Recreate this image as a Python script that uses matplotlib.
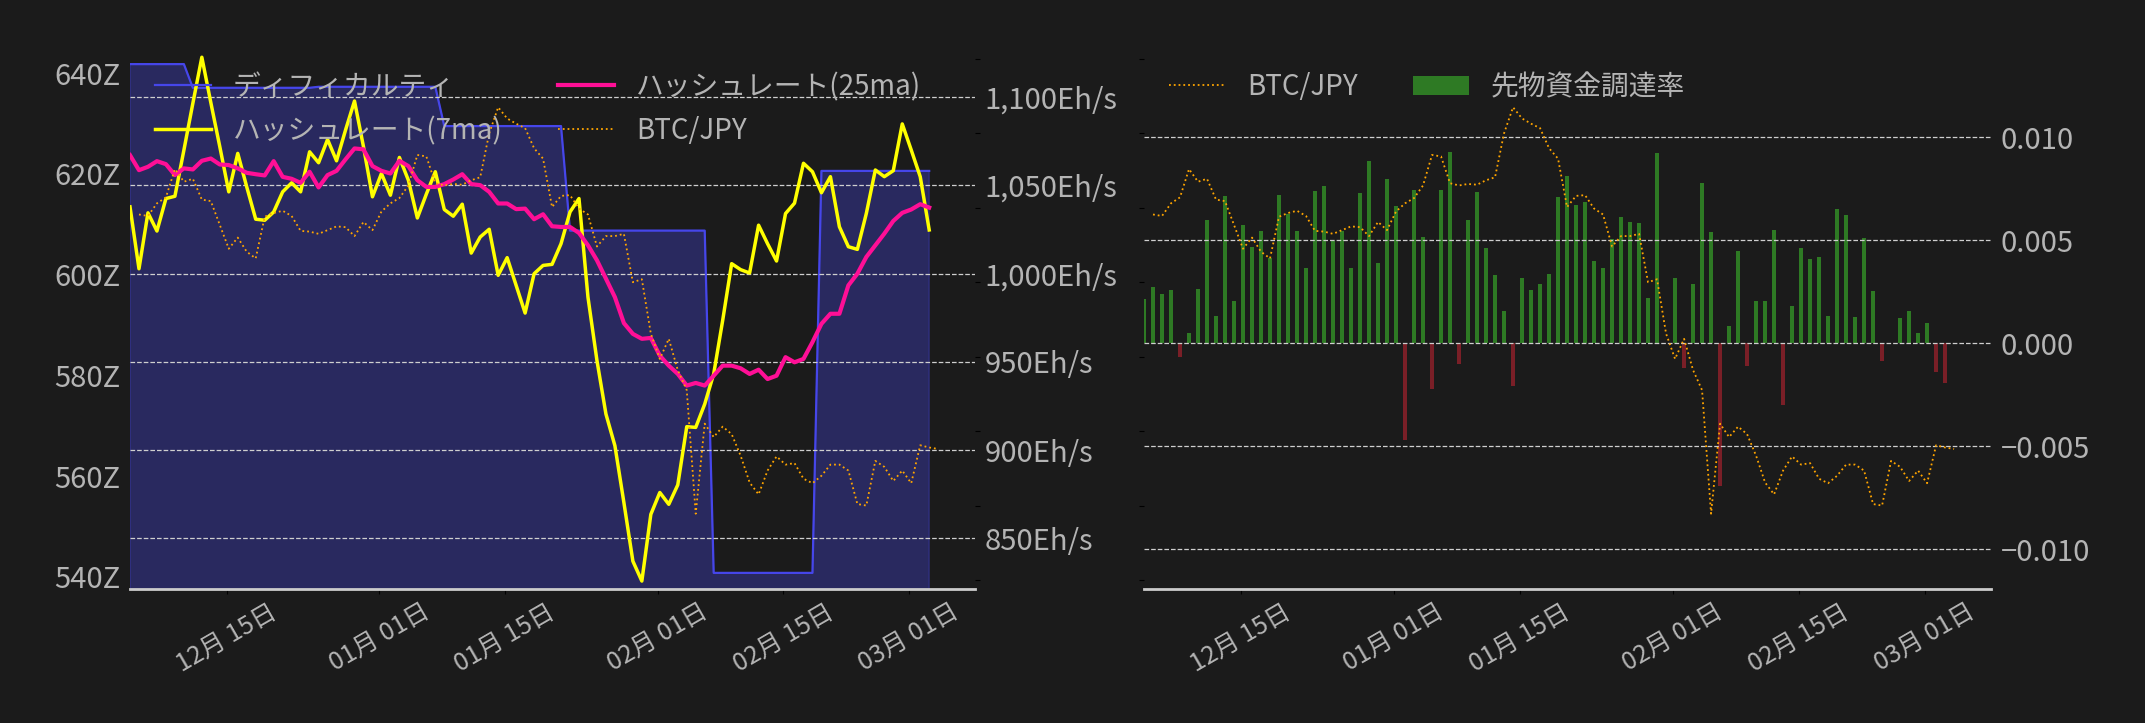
import numpy as np
import pandas as pd
import matplotlib
matplotlib.use("Agg")
import matplotlib.pyplot as plt
import matplotlib.dates as mdates
from matplotlib.ticker import MultipleLocator, FuncFormatter

plt.rcParams['font.family'] = ['Noto Sans CJK JP', 'DejaVu Sans']

# データ (日次, 90日分)
start = "2025-12-04 06:00"
n_days = 90

difficulty = [641.8, 641.8, 641.8, 641.8, 641.8, 641.8, 641.8,
              637.1, 637.1, 637.1, 637.1, 637.1, 637.1, 637.1,
              637.1, 637.1, 637.1, 637.1, 637.1, 637.1, 637.1,
              637.3, 637.3, 637.3, 637.3, 637.3, 637.3, 637.3,
              637.3, 637.3, 637.3, 637.3, 637.3, 637.3, 637.3,
              629.5, 629.5, 629.5, 629.5, 629.5, 629.5, 629.5,
              629.5, 629.5, 629.5, 629.5, 629.5, 629.5, 629.5,
              608.75, 608.75, 608.75, 608.75, 608.75, 608.75, 608.75, 608.75,
              608.75, 608.75, 608.75, 608.75, 608.75, 608.75, 608.75, 608.75,
              540.8, 540.8, 540.8, 540.8, 540.8, 540.8,
              540.8, 540.8, 540.8, 540.8, 540.8, 540.8,
              620.6, 620.6, 620.6, 620.6, 620.6, 620.6, 620.6,
              620.6, 620.6, 620.6, 620.6, 620.6, 620.6]

hash_7ma = [1037.9, 1002.8, 1034.5, 1024.2, 1042.6, 1043.9, 1070.0, 1096.6, 1122.7, 1097.0,
            1072.0, 1046.4, 1068.2, 1049.2, 1030.9, 1030.3, 1035.0, 1046.4, 1051.5, 1046.4,
            1069.1, 1062.9, 1076.1, 1064.0, 1081.4, 1097.9, 1072.0, 1043.6, 1056.8, 1044.5,
            1065.9, 1053.0, 1031.6, 1045.1, 1057.8, 1036.4, 1032.6, 1039.4, 1011.7, 1020.8,
            1025.2, 999.1, 1009.1, 993.4, 977.7, 1000.0, 1004.7, 1005.3, 1017.0, 1035.0,
            1042.6, 986.7, 950.8, 920.5, 902.5, 870.3, 837.1, 825.8, 863.6, 876.0,
            869.3, 880.3, 913.3, 912.9, 926.1, 943.2, 973.5, 1005.7, 1002.3, 1000.4,
            1027.5, 1017.0, 1007.2, 1034.1, 1040.0, 1062.6, 1057.8, 1045.9, 1055.0, 1026.6,
            1015.3, 1013.8, 1034.2, 1058.8, 1055.0, 1058.4, 1084.9, 1070.1, 1055.0, 1024.8]

hash_25ma = [1067.2, 1058.7, 1060.6, 1063.8, 1062.1, 1055.9, 1059.7, 1059.1, 1064.0, 1065.3,
             1061.9, 1061.6, 1059.7, 1057.2, 1056.4, 1055.7, 1063.8, 1054.9, 1053.8, 1051.5,
             1057.8, 1048.9, 1055.9, 1058.3, 1064.8, 1071.0, 1070.5, 1061.0, 1058.3, 1056.8,
             1064.0, 1061.0, 1053.0, 1049.2, 1049.2, 1050.8, 1053.4, 1056.4, 1050.8, 1050.2,
             1046.4, 1039.8, 1039.8, 1036.6, 1036.9, 1030.9, 1033.7, 1026.9, 1026.5, 1026.5,
             1023.1, 1016.1, 1007.6, 997.2, 986.7, 972.0, 965.9, 963.1, 963.6, 953.6,
             947.9, 943.2, 936.6, 938.1, 936.6, 942.2, 947.9, 947.9, 946.4, 943.2,
             945.6, 940.3, 942.2, 952.7, 949.8, 951.7, 961.2, 971.6, 977.3, 977.3,
             993.4, 1000.0, 1009.5, 1016.1, 1022.7, 1029.9, 1034.5, 1036.4, 1039.4, 1037.5]

# BTC/JPY (百万円), 1日遅れの日付
btc_jpy = [13.91, 13.89, 14.06, 14.14, 14.52, 14.35, 14.39, 14.11, 14.09, 13.77,
           13.45, 13.60, 13.41, 13.32, 13.88, 13.93, 13.96, 13.89, 13.69, 13.68,
           13.65, 13.70, 13.75, 13.74, 13.62, 13.81, 13.70, 13.95, 14.06, 14.13,
           14.30, 14.71, 14.69, 14.33, 14.30, 14.32, 14.31, 14.37, 14.41, 15.00,
           15.35, 15.20, 15.13, 15.07, 14.80, 14.66, 14.01, 14.16, 14.17, 13.99,
           13.91, 13.48, 13.62, 13.62, 13.65, 13.00, 13.04, 12.31, 11.97, 12.24,
           11.82, 11.55, 9.89, 11.10, 10.92, 11.06, 10.96, 10.67, 10.31, 10.15,
           10.47, 10.66, 10.55, 10.57, 10.36, 10.30, 10.40, 10.55, 10.55, 10.47,
           10.02, 10.00, 10.60, 10.52, 10.33, 10.47, 10.30, 10.81, 10.78, 10.76]

funding = [0.00215, 0.00273, 0.00240, 0.00259, -0.00065, 0.00050, 0.00264, 0.00599, 0.00133, 0.00715,
           0.00206, 0.00574, 0.00466, 0.00545, 0.00414, 0.00720, 0.00628, 0.00545, 0.00366, 0.00740,
           0.00764, 0.00497, 0.00545, 0.00366, 0.00730, 0.00885, 0.00390, 0.00798, 0.00667, -0.00472,
           0.00744, 0.00516, -0.00220, 0.00744, 0.00929, -0.00099, 0.00599, 0.00735, 0.00463, 0.00332,
           0.00157, -0.00210, 0.00317, 0.00259, 0.00288, 0.00337, 0.00710, 0.00812, 0.00672, 0.00686,
           0.00400, 0.00366, 0.00505, 0.00613, 0.00589, 0.00584, 0.00220, 0.00924, 0.0, 0.00317,
           -0.00120, 0.00288, 0.00778, 0.00540, -0.00693, 0.00084, 0.00448, -0.00110, 0.00206, 0.00206,
           0.00550, -0.00299, 0.00181, 0.00463, 0.00409, 0.00419, 0.00133, 0.00652, 0.00623, 0.00128,
           0.00511, 0.00254, -0.00086, 0.0, 0.00123, 0.00157, 0.00050, 0.00099, -0.00139, -0.00193]

dates = pd.date_range(start, periods=n_days, freq="D")
btc_dates = dates + pd.Timedelta(days=1)

BG = "#1b1b1b"
TXT = "#b4b4b4"
BLUE = "#4646ea"
GRID = "#cfcfcf"

fig = plt.figure(figsize=(21.45, 7.23), dpi=100, facecolor=BG)


def style_axes(ax):
    for s in ax.spines.values():
        s.set_visible(False)


def date_axis(ax):
    ax.set_xlim(dates[0], dates[0] + pd.Timedelta(days=94.1))
    ax.xaxis.set_major_locator(mdates.DayLocator(bymonthday=[1, 15]))
    ax.xaxis.set_major_formatter(mdates.DateFormatter("%m月 %d日"))
    ax.tick_params(axis="x", labelrotation=30, labelsize=18, labelcolor=TXT)
    ax.spines["bottom"].set_visible(True)
    ax.spines["bottom"].set_color("#cccccc")
    ax.spines["bottom"].set_linewidth(2)


# ---- 左: ディフィカルティ / ハッシュレート ----
ax1 = fig.add_axes([130 / 2145, 1 - 589 / 723, 845 / 2145, 542 / 723])
ax1.set_facecolor(BG)
ax1.fill_between(dates, difficulty, 0, color=BLUE, alpha=0.33)
l_diff, = ax1.plot(dates, difficulty, color=BLUE, lw=1.6, label="ディフィカルティ")
ax1.set_ylim(537.6, 645.2)
ax1.yaxis.set_major_locator(MultipleLocator(20))
ax1.yaxis.set_major_formatter(FuncFormatter(lambda v, _: f"{v:.0f}Z"))
ax1.tick_params(axis="y", length=0, pad=7, labelsize=21, labelcolor=TXT)

ax2 = ax1.twinx()
l_7, = ax2.plot(dates, hash_7ma, color="#ffff00", lw=2.5, label="ハッシュレート(7ma)")
l_25, = ax2.plot(dates, hash_25ma, color="#ff0f96", lw=3, label="ハッシュレート(25ma)")
ax2.set_ylim(821.3, 1128.5)
ax2.yaxis.set_major_locator(MultipleLocator(50))
ax2.yaxis.set_major_formatter(FuncFormatter(lambda v, _: f"{v:,.0f}Eh/s"))
ax2.tick_params(axis="y", length=0, pad=7, labelsize=21, labelcolor=TXT)
ax2.yaxis.grid(True, ls="--", color=GRID, lw=0.9)

ax3 = ax1.twinx()
l_btc, = ax3.plot(btc_dates, btc_jpy, color="orange", ls=":", lw=1.3, label="BTC/JPY")
ax3.set_ylim(8.879, 16.16)
ax3.yaxis.set_major_locator(MultipleLocator(1))
ax3.tick_params(axis="y", labelright=False)

for ax in (ax1, ax2, ax3):
    style_axes(ax)
date_axis(ax1)

ax3.legend(handles=[l_diff, l_7, l_25, l_btc], ncol=2, loc="upper left",
           frameon=False, fontsize=20, labelcolor=TXT)

# ---- 右: 先物資金調達率 ----
ax4 = fig.add_axes([1144 / 2145, 1 - 589 / 723, 847 / 2145, 542 / 723])
ax4.set_facecolor(BG)
bar_colors = ["#2e7a24" if v >= 0 else "#7a1f27" for v in funding]
bars = ax4.bar(dates, funding, width=0.5, color=bar_colors, label="先物資金調達率")
ax4.set_ylim(-0.01193, 0.01438)
ax4.yaxis.set_major_locator(MultipleLocator(0.005))
ax4.yaxis.grid(True, ls="--", color=GRID, lw=0.9)

ax5 = ax4.twinx()
r_btc, = ax5.plot(btc_dates, btc_jpy, color="orange", ls=":", lw=1.3, label="BTC/JPY")
ax5.set_ylim(8.879, 16.16)
ax5.yaxis.set_major_locator(MultipleLocator(1))
ax5.yaxis.tick_left()
ax5.tick_params(axis="y", labelleft=False)

ax4.yaxis.tick_right()
ax4.tick_params(axis="y", length=0, pad=7, labelsize=21, labelcolor=TXT)

for ax in (ax4, ax5):
    style_axes(ax)
date_axis(ax4)

ax5.legend(handles=[r_btc, bars], ncol=2, loc="upper left",
           frameon=False, fontsize=20, labelcolor=TXT)

fig.savefig("out.png", dpi=100, facecolor=BG)
